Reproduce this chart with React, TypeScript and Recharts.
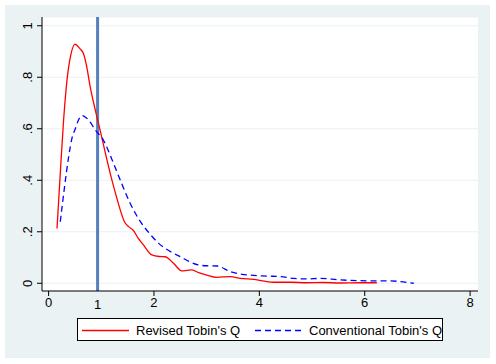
import { CartesianGrid, Line, LineChart, ReferenceLine, XAxis, YAxis } from 'recharts'

// Kernel density readings, x = Tobin's Q, y = density
const revisedX = [
  0.16, 0.22, 0.285, 0.35, 0.42, 0.5, 0.59, 0.66, 0.72, 0.79, 0.886, 1.0, 1.108, 1.19, 1.27, 1.36,
  1.44, 1.52, 1.61, 1.7, 1.8, 1.96, 2.1, 2.21, 2.37, 2.53, 2.63, 2.72, 2.85, 3.0, 3.19, 3.45, 3.64,
  3.89, 4.1, 4.27, 4.6, 4.9, 5.2, 5.54, 5.9, 6.23,
]
const revisedY = [
  0.213, 0.42, 0.634, 0.79, 0.885, 0.929, 0.912, 0.893, 0.845, 0.763, 0.673, 0.575, 0.479, 0.41,
  0.349, 0.285, 0.239, 0.22, 0.205, 0.175, 0.149, 0.11, 0.104, 0.103, 0.078, 0.048, 0.05, 0.052,
  0.041, 0.032, 0.023, 0.026, 0.019, 0.015, 0.008, 0.004, 0.004, 0.002, 0.003, 0.001, 0.002, 0.002,
]
const conventionalX = [
  0.222, 0.3, 0.38, 0.44, 0.507, 0.57, 0.634, 0.7, 0.76, 0.886, 1.04, 1.2, 1.36, 1.55, 1.74, 1.93,
  2.09, 2.21, 2.5, 2.85, 3.0, 3.2, 3.45, 3.64, 4.14, 4.4, 4.65, 4.9, 5.16, 5.53, 5.92, 6.48, 6.93,
]
const conventionalY = [
  0.239, 0.37, 0.49, 0.56, 0.6, 0.635, 0.651, 0.645, 0.634, 0.595, 0.556, 0.482, 0.401, 0.31, 0.24,
  0.19, 0.155, 0.136, 0.103, 0.071, 0.068, 0.067, 0.045, 0.036, 0.028, 0.026, 0.019, 0.017, 0.019,
  0.013, 0.01, 0.009, 0.0,
]

const seriesNames = ["Revised Tobin's Q", "Conventional Tobin's Q"]
const xTicks = [0, 2, 4, 6, 8]
const yTicks = [0, 0.2, 0.4, 0.6, 0.8, 1]
const yTickLabels = ['0', '.2', '.4', '.6', '.8', '1']
const refLineX = 0.93
const refLineLabel = '1'

const revised = revisedX.map((x, i) => ({ x, y: revisedY[i] }))
const conventional = conventionalX.map((x, i) => ({ x, y: conventionalY[i] }))

const FONT = '"Liberation Sans", Arial, sans-serif'
const BG = '#eaf2f3'

const YTick = (props: any) => {
  const { y, payload } = props
  const idx = yTicks.indexOf(payload.value)
  return (
    <text
      x={32.5}
      y={y}
      transform={`rotate(-90, 32.5, ${y})`}
      textAnchor="middle"
      fontSize={13}
      fontFamily={FONT}
      fill="#000"
    >
      {idx >= 0 ? yTickLabels[idx] : payload.value}
    </text>
  )
}

export default function App() {
  return (
    <div
      style={{
        position: 'absolute',
        left: 0,
        top: 0,
        width: 496,
        height: 364,
        background: '#fff',
        fontFamily: FONT,
      }}
    >
      <div style={{ position: 'absolute', left: 5, top: 5, width: 485, height: 353, background: BG }} />
      <div style={{ position: 'absolute', left: 0, top: 0 }}>
        <LineChart width={496} height={364} margin={{ top: 17, right: 18, bottom: 43, left: 0 }}>
          <CartesianGrid fill="#fff" stroke={BG} vertical={false} />
          <XAxis
            type="number"
            dataKey="x"
            domain={[-0.125, 8.15]}
            ticks={xTicks}
            allowDataOverflow
            height={30}
            stroke="#000"
            tickSize={5}
            tick={{ fill: '#000', fontSize: 13, fontFamily: FONT }}
          />
          <YAxis
            type="number"
            dataKey="y"
            domain={[-0.03, 1.034]}
            ticks={yTicks}
            allowDataOverflow
            width={42}
            stroke="#000"
            tickSize={5}
            tick={<YTick />}
          />
          <ReferenceLine
            x={refLineX}
            stroke="#5580bd"
            strokeWidth={3}
            label={{
              value: refLineLabel,
              position: 'bottom',
              offset: 9,
              fill: '#000',
              fontSize: 13,
              fontFamily: FONT,
            }}
          />
          <Line
            data={revised}
            dataKey="y"
            name={seriesNames[0]}
            type="monotone"
            stroke="#ff0000"
            strokeWidth={1.3}
            dot={false}
            isAnimationActive={false}
          />
          <Line
            data={conventional}
            dataKey="y"
            name={seriesNames[1]}
            type="monotone"
            stroke="#0000ff"
            strokeWidth={1.3}
            strokeDasharray="6 4"
            dot={false}
            isAnimationActive={false}
          />
        </LineChart>
      </div>
      <div
        style={{
          position: 'absolute',
          left: 77,
          top: 318,
          width: 364,
          height: 21,
          background: '#fff',
          border: '1px solid #000',
          fontSize: 13,
          color: '#000',
        }}
      >
        <svg width={364} height={21} style={{ position: 'absolute', left: 0, top: 0 }}>
          <line x1={4} x2={51} y1={11.5} y2={11.5} stroke="#ff0000" strokeWidth={1.3} />
          <text x={58} y={16} fontSize={13} fontFamily={FONT}>
            {seriesNames[0]}
          </text>
          <line
            x1={177}
            x2={224}
            y1={11.5}
            y2={11.5}
            stroke="#0000ff"
            strokeWidth={1.3}
            strokeDasharray="6 4"
          />
          <text x={231} y={16} fontSize={13} fontFamily={FONT}>
            {seriesNames[1]}
          </text>
        </svg>
      </div>
    </div>
  )
}
